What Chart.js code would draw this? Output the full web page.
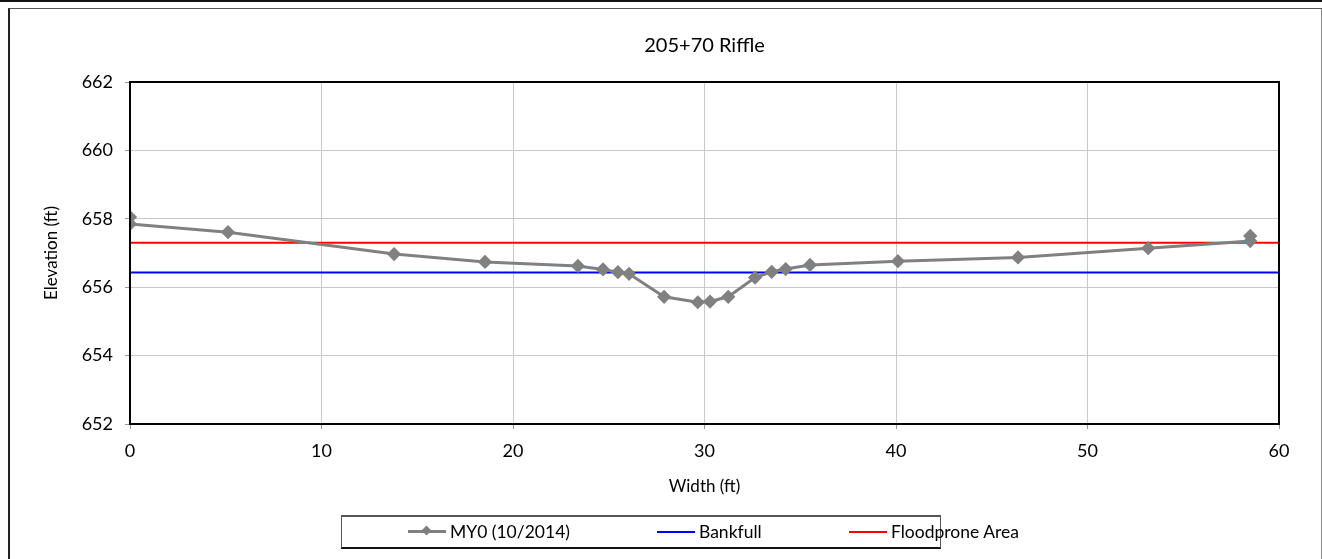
<!DOCTYPE html>
<html lang="en">
<head>
    <meta charset="UTF-8">
    <title>205+70 Riffle</title>
    <script src="https://cdn.jsdelivr.net/npm/chart.js"></script>
    <style>
        body {
            margin: 0;
            background: #fff;
            font-family: Lato, "Noto Sans", sans-serif;
        }
        .wrap {
            position: relative;
            width: 1322px;
            height: 559px;
            overflow: hidden;
        }
        .wrap canvas {
            position: absolute;
            left: 0;
            top: 0;
        }
        .top-line {
            position: absolute;
            left: 0; top: 0;
            width: 1322px; height: 2px;
            background: #111;
        }
        .frame {
            position: absolute;
            left: 8px; top: 8px;
            width: 1311px; height: 600px;
            border-left: 2px solid #222;
            border-top: 1px solid #555;
            border-right: 1px solid #888;
        }
        .legend {
            position: absolute;
            left: 341px; top: 515px;
            width: 598px; height: 30px;
            border-top: 2px solid #555;
            border-bottom: 2px solid #111;
            border-left: 1px solid #555;
            border-right: 1px solid #555;
            font-size: 17.5px;
            color: #000;
        }
        .legend .item {
            position: absolute;
            top: 4px;
            display: flex;
            align-items: center;
            white-space: nowrap;
        }
        .legend .swatch {
            position: relative;
            width: 38px;
            height: 2px;
            margin-right: 4px;
        }
        .legend .diamond {
            position: absolute;
            left: 15px; top: -3px;
            width: 7px; height: 7px;
            background: #808080;
            transform: rotate(45deg);
        }
    </style>
</head>
<body>
    <div class="wrap">
        <canvas id="xs-chart" width="1322" height="559"></canvas>
        <div class="top-line"></div>
        <div class="frame"></div>
        <div class="legend" id="legend"></div>
    </div>

    <script>
        // Survey data
        const stationFt = [0, 0, 5.12, 13.79, 18.54, 23.39, 24.7, 25.48, 26.06, 27.89, 29.65, 30.29,
                           31.24, 32.64, 33.51, 34.24, 35.51, 40.1, 46.37, 53.17, 58.5, 58.5];
        const elevationFt = [658.05, 657.85, 657.61, 656.97, 656.74, 656.62, 656.52, 656.44, 656.39, 655.72, 655.56, 655.58,
                             655.72, 656.28, 656.45, 656.53, 656.65, 656.76, 656.87, 657.14, 657.35, 657.5];
        const lineExtent = [0, 60];
        const bankfullElev = 656.43;
        const floodproneElev = 657.3;
        const seriesNames = ['MY0 (10/2014)', 'Bankfull', 'Floodprone Area'];
        const seriesColors = ['#808080', '#0000ff', '#ff0000'];
        const chartTitle = '205+70 Riffle';

        const fontFamily = 'Lato, "Noto Sans", sans-serif';

        const survey = stationFt.map((x, i) => ({ x: x, y: elevationFt[i] }));
        const bankfull = lineExtent.map(x => ({ x: x, y: bankfullElev }));
        const floodprone = lineExtent.map(x => ({ x: x, y: floodproneElev }));

        // box round the plot area, and the title centred over the plot area (excel does it that way)
        const plotDecor = {
            id: 'plotDecor',
            afterDatasetsDraw(chart) {
                const a = chart.chartArea;
                const ctx = chart.ctx;
                ctx.save();
                ctx.strokeStyle = '#000';
                ctx.lineWidth = 2;
                ctx.strokeRect(a.left, a.top, a.right - a.left, a.bottom - a.top);
                ctx.fillStyle = '#000';
                ctx.font = '20px ' + fontFamily;
                ctx.textAlign = 'center';
                ctx.textBaseline = 'middle';
                ctx.fillText(chartTitle, (a.left + a.right) / 2, 46);
                ctx.restore();
            }
        };

        const ctx = document.getElementById('xs-chart').getContext('2d');
        new Chart(ctx, {
            type: 'scatter',
            data: {
                datasets: [{
                    label: seriesNames[0],
                    data: survey,
                    showLine: true,
                    borderColor: seriesColors[0],
                    backgroundColor: seriesColors[0],
                    borderWidth: 3,
                    pointStyle: 'rectRot',
                    pointRadius: 5,
                    pointHoverRadius: 5,
                    order: 0
                }, {
                    label: seriesNames[1],
                    data: bankfull,
                    showLine: true,
                    borderColor: seriesColors[1],
                    borderWidth: 2,
                    pointRadius: 0,
                    order: 1
                }, {
                    label: seriesNames[2],
                    data: floodprone,
                    showLine: true,
                    borderColor: seriesColors[2],
                    borderWidth: 2,
                    pointRadius: 0,
                    order: 2
                }]
            },
            options: {
                responsive: false,
                animation: false,
                layout: {
                    padding: { left: 41, right: 43, top: 82, bottom: 62 }
                },
                plugins: {
                    legend: { display: false },
                    tooltip: { enabled: false },
                    title: { display: false }
                },
                scales: {
                    x: {
                        type: 'linear',
                        min: 0,
                        max: 60,
                        ticks: { stepSize: 10, color: '#000', font: { family: fontFamily, size: 18 }, padding: 11 },
                        grid: { color: '#c8c8c8', tickColor: '#999', tickLength: 5 },
                        border: { color: '#000', width: 2 },
                        title: { display: true, text: 'Width (ft)', color: '#000', font: { family: fontFamily, size: 17 }, padding: 0 },
                        afterFit(scale) { scale.height = 73; }
                    },
                    y: {
                        min: 652,
                        max: 662,
                        ticks: { stepSize: 2, color: '#000', font: { family: fontFamily, size: 18 }, padding: 12 },
                        grid: { color: '#c8c8c8', tickColor: '#999', tickLength: 5 },
                        border: { color: '#000', width: 2 },
                        title: { display: true, text: 'Elevation (ft)', color: '#000', font: { family: fontFamily, size: 17 }, padding: 0 },
                        afterFit(scale) { scale.width = 89; }
                    }
                }
            },
            plugins: [plotDecor]
        });

        // legend built as html, with the excel style line + marker swatches
        const legendEl = document.getElementById('legend');
        const legendLeft = [66, 315, 507];
        seriesNames.forEach((name, i) => {
            const item = document.createElement('div');
            item.className = 'item';
            item.style.left = legendLeft[i] + 'px';
            const sw = document.createElement('span');
            sw.className = 'swatch';
            sw.style.background = seriesColors[i];
            if (i === 0) {
                sw.style.height = '3px';
                const d = document.createElement('span');
                d.className = 'diamond';
                sw.appendChild(d);
            }
            item.appendChild(sw);
            item.appendChild(document.createTextNode(name));
            legendEl.appendChild(item);
        });
    </script>
</body>
</html>
